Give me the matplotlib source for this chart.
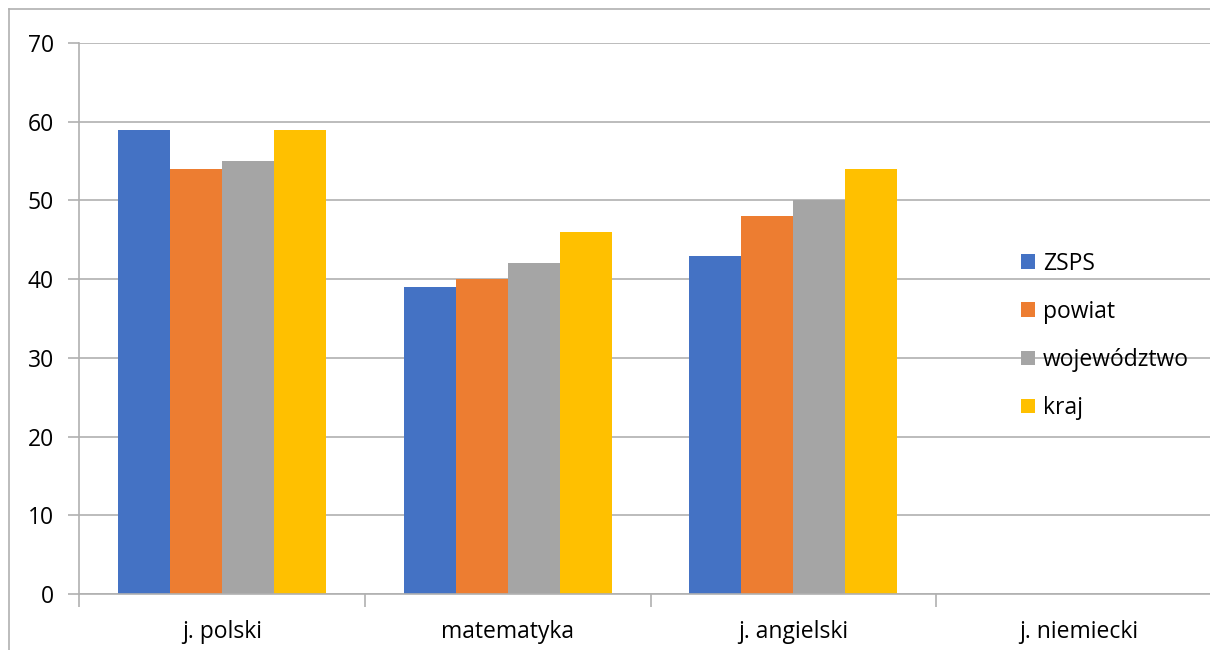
import matplotlib.pyplot as plt
import numpy as np
from matplotlib.lines import Line2D
from matplotlib.patches import Patch

plt.rcParams['font.family'] = ['Open Sans', 'DejaVu Sans']

categories = ["j. polski", "matematyka", "j. angielski", "j. niemiecki"]
series_names = ["ZSPS", "powiat", "województwo", "kraj"]
zsps = [59, 39, 43, np.nan]
powiat = [54, 40, 48, np.nan]
wojewodztwo = [55, 42, 50, np.nan]
kraj = [59, 46, 54, np.nan]
colors = ["#4472c4", "#ed7d31", "#a5a5a5", "#ffc000"]

W, H = 1210, 650
fs = 16.5
fig = plt.figure(figsize=[W/100, H/100], dpi=100)
ax = fig.add_axes([79/W, (H-594)/H, (1222-79)/W, (594-43)/H])

grid_c = "#b0b0b0"
x = np.arange(len(categories))
bw = 0.182
values = [zsps, powiat, wojewodztwo, kraj]
for i, (vals, col) in enumerate(zip(values, colors)):
    ax.bar(x + (i-1.5)*bw, vals, width=bw, color=col, label=series_names[i], zorder=2)

ax.set_xlim(-0.5, len(categories)-0.5)
ax.set_ylim(0, 70)
ax.set_yticks(range(0, 71, 10))
ax.grid(axis='y', color=grid_c, linewidth=1.2, zorder=0)
ax.set_axisbelow(True)

for s in ['top', 'right']:
    ax.spines[s].set_visible(False)
for s in ['left', 'bottom']:
    ax.spines[s].set_color(grid_c)
    ax.spines[s].set_linewidth(1.2)

ax.set_xticks(x)
ax.set_xticklabels(categories)
ax.set_xticks(np.arange(-0.5, len(categories)-0.5, 1), minor=True)
ax.tick_params(axis='x', which='major', length=0, pad=19, labelsize=fs)
ax.tick_params(axis='x', which='minor', length=9, color=grid_c, width=1.2)
ax.tick_params(axis='y', length=8, color=grid_c, width=1.2, pad=10, labelsize=fs)

handles = [Patch(facecolor=c, edgecolor='none') for c in colors]
leg = ax.legend(handles, series_names, loc='center left', bbox_to_anchor=((1000-79)/1143, (594-336)/551),
                frameon=False, fontsize=fs, handlelength=0.62, handleheight=0.62,
                handletextpad=0.35, labelspacing=1.05)

# outer chart border (cropped at right and bottom)
fig.add_artist(Line2D([9/W, 9/W], [0, 1-9/H], color=grid_c, linewidth=1.2))
fig.add_artist(Line2D([9/W, 1], [1-9/H, 1-9/H], color=grid_c, linewidth=1.2))

plt.savefig("out.png", dpi=100)
